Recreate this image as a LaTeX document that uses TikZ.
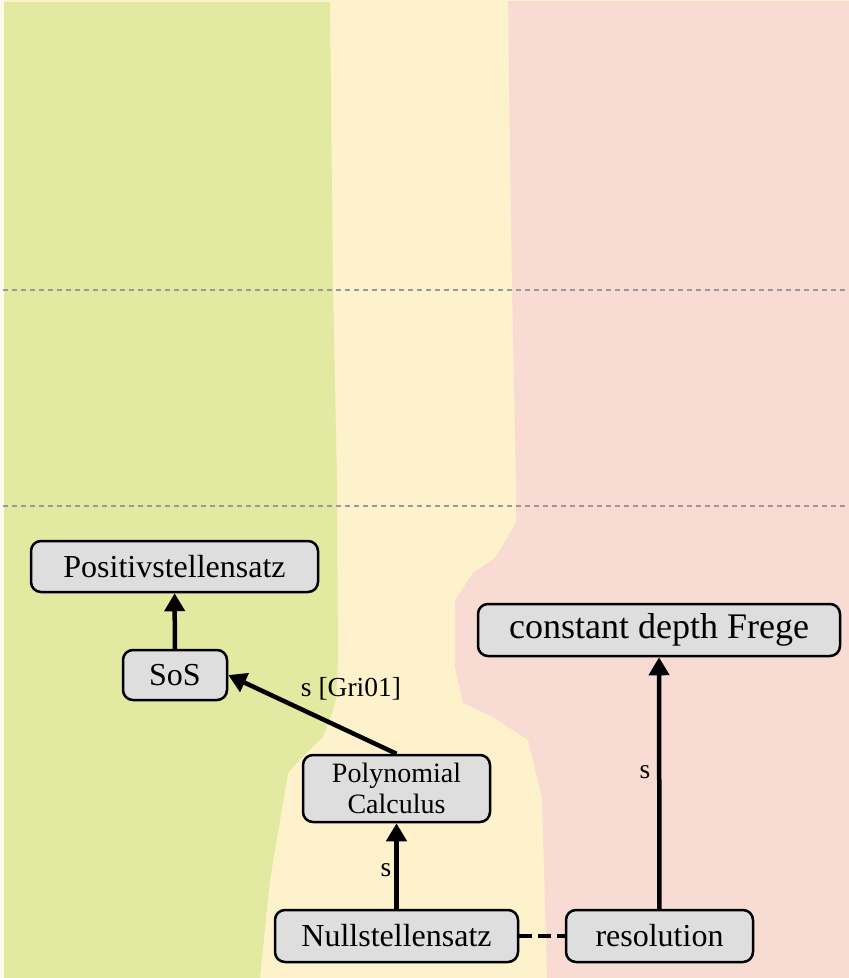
\documentclass[tikz,border=0pt]{standalone}
\usepackage{fontspec}
\setmainfont{Liberation Serif}
\usetikzlibrary{arrows.meta}
\definecolor{bgcream}{HTML}{FDFAEA}
\definecolor{zonegreen}{HTML}{E1EAA0}
\definecolor{zoneyellow}{HTML}{FEF2CD}
\definecolor{zonepink}{HTML}{F8DBD3}
\definecolor{boxgray}{HTML}{DEDEDE}
\definecolor{rulegray}{HTML}{999999}
\tikzset{
  sysbox/.style={draw=black, line width=2.5pt, fill=boxgray, rounded corners=10pt,
    inner sep=0pt, font=\fontsize{32}{35}\selectfont},
  sim/.style={line width=4.5pt, -{Triangle[length=18pt,width=20pt]}},
  lbl/.style={font=\fontsize{27.5}{30}\selectfont, inner sep=0pt},
  levelrule/.style={rulegray, line width=1.3pt, dash pattern=on 5pt off 4pt},
}
\begin{document}
\begin{tikzpicture}[x=1pt, y=-1pt]
\useasboundingbox (0,0) rectangle (849,978);
% background and the three coloured zones
\fill[bgcream] (0,0) rectangle (849,978);
\fill[zoneyellow] (4,0) rectangle (849,978);
\fill[zonegreen] (4,2) -- (330,2) -- (333,290) -- (337,480) -- (338,660)
  -- (336,700) -- (333,710) -- (323,737) -- (307,752) -- (288,773)
  -- (270,880) -- (260,978) -- (4,978) -- cycle;
\fill[zonepink] (508,1) -- (849,1) -- (849,978) -- (547,978) -- (542,797)
  -- (528,740) -- (493,717) -- (463,703) -- (455,667) -- (455,600)
  -- (473,573) -- (495,558) -- (516,523) -- (516,480) -- (512,290) -- cycle;
% level separators
\draw[levelrule] (3,290) -- (849,290);
\draw[levelrule] (3,506) -- (849,506);
% proof systems
\node[sysbox, minimum width=287pt, minimum height=51pt] (pos) at (174.5,566.5) {Positivstellensatz};
\node[sysbox, minimum width=104pt, minimum height=50pt] (sos) at (175,675) {SoS};
\node[sysbox, minimum width=187pt, minimum height=67pt, align=center,
  font=\fontsize{28}{31}\selectfont] (pc) at (396.5,788.5) {Polynomial\\Calculus};
\node[sysbox, minimum width=243pt, minimum height=52pt] (ns) at (396.5,936) {Nullstellensatz};
\node[sysbox, minimum width=187pt, minimum height=52pt] (res) at (659.5,936) {resolution};
\node[sysbox, minimum width=362pt, minimum height=52pt,
  font=\fontsize{36}{39}\selectfont] (frege) at (659,630) {constant depth Frege};
% simulations
\draw[sim] (sos) -- (pos);
\draw[sim] (pc.north) -- (sos.east);
\draw[sim] (ns) -- (pc);
\draw[sim] (res) -- (frege);
\draw[line width=4.5pt, dash pattern=on 13pt off 6pt] (ns) -- (res);
% labels
\node[lbl] (l1) at (351,689) {s [Gri01]};
\node[lbl] (l2) at (386,870) {s};
\node[lbl] (l3) at (645,772) {s};
\end{tikzpicture}
\end{document}
